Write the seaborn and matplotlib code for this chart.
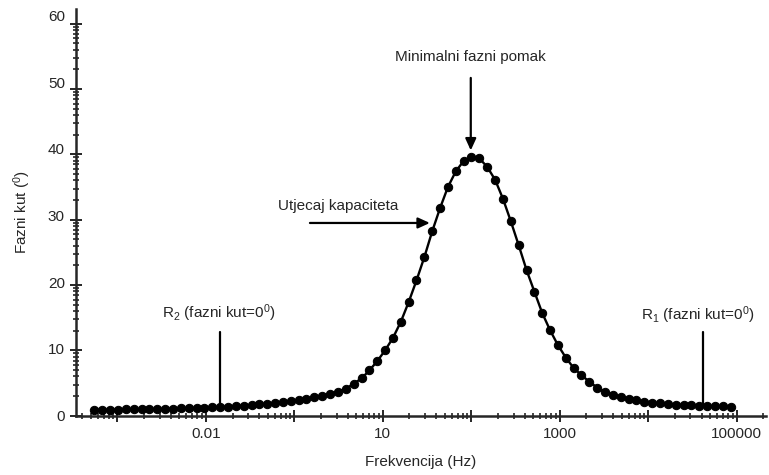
import numpy as np
import pandas as pd
import matplotlib
matplotlib.use('Agg')
import matplotlib.pyplot as plt
import matplotlib.ticker as mticker
from matplotlib.transforms import ScaledTranslation
import seaborn as sns

# frequency (Hz) and phase angle (deg)
freq = [0.0055, 0.00675, 0.00828, 0.01015, 0.01245, 0.01528, 0.01875, 0.0230, 0.0282, 0.0346,
        0.0425, 0.0521, 0.0640, 0.0784, 0.0962, 0.118, 0.145, 0.178, 0.218, 0.267,
        0.328, 0.403, 0.494, 0.606, 0.743, 0.912, 1.12, 1.37, 1.68, 2.07,
        2.54, 3.11, 3.82, 4.68, 5.74, 7.05, 8.65, 10.6, 13.0, 16.0,
        19.6, 24.0, 29.5, 36.1, 44.4, 54.4, 66.8, 82.0, 100.5, 123,
        151, 186, 228, 279, 343, 421, 516, 634, 776, 953,
        1170, 1435, 1760, 2160, 2650, 3250, 3990, 4900, 6000, 7360,
        9040, 11090, 13600, 16700, 20500, 25100, 30800, 37800, 46400, 56900,
        69800, 85700]
phase = [0.92, 0.93, 0.94, 0.95, 0.97, 0.98, 1.00, 1.02, 1.04, 1.07,
         1.10, 1.13, 1.16, 1.20, 1.24, 1.29, 1.35, 1.41, 1.47, 1.56,
         1.65, 1.75, 1.87, 1.99, 2.12, 2.26, 2.43, 2.61, 2.84, 3.08,
         3.37, 3.69, 4.13, 4.90, 5.71, 6.94, 8.36, 10.0, 11.9, 14.4,
         17.4, 20.7, 24.3, 28.2, 31.8, 35.0, 37.4, 39.0, 39.6, 39.4,
         38.1, 36.1, 33.2, 29.8, 26.1, 22.3, 19.0, 15.7, 13.1, 10.8,
         8.9, 7.3, 6.2, 5.2, 4.3, 3.67, 3.21, 2.86, 2.57, 2.35,
         2.16, 2.02, 1.90, 1.80, 1.70, 1.63, 1.57, 1.52, 1.48, 1.45,
         1.42, 1.40]

xtick_pos = [0.1, 10, 1000, 100000]
xtick_txt = ['0.01', '10', '1000', '100000']
ytick_pos = [0, 10, 20, 30, 40, 50, 60]

sns.set_style('ticks')
plt.rcParams['font.family'] = ['Liberation Sans', 'DejaVu Sans']
plt.rcParams['mathtext.fontset'] = 'custom'
plt.rcParams['mathtext.rm'] = 'Liberation Sans'
plt.rcParams['mathtext.it'] = 'Liberation Sans'

fig = plt.figure(figsize=(7.69, 4.75), dpi=100)
ax = fig.add_axes([0.0988, 0.1248, 0.897, 0.8556])

df = pd.DataFrame({'f': freq, 'phase': phase})
sns.lineplot(data=df, x='f', y='phase', ax=ax, color='black', linewidth=1.7,
             marker='o', markersize=6, markeredgecolor='black', sort=False)

ax.set_xscale('log')
ax.set_xlim(0.0034, 2.13e5)
ax.set_ylim(0, 62.2)

# every decade gets a major tick, only some of them carry a label
decades = [10.0 ** e for e in range(-2, 6)]
ax.xaxis.set_major_locator(mticker.FixedLocator(decades))
lab = dict(zip(xtick_pos, xtick_txt))
ax.xaxis.set_major_formatter(mticker.FixedFormatter([lab.get(d, '') for d in decades]))
ax.xaxis.set_minor_locator(mticker.LogLocator(base=10, subs=np.arange(2, 10), numticks=20))
ax.xaxis.set_minor_formatter(mticker.NullFormatter())

ax.set_yticks(ytick_pos)
ymin = [b + 10 * np.log10(k) for b in range(0, 60, 10) for k in range(2, 10)]
ax.yaxis.set_minor_locator(mticker.FixedLocator(ymin))

ax.tick_params(which='major', direction='inout', length=8, width=1.4, labelsize=11, pad=4)
ax.tick_params(which='minor', direction='inout', length=5, width=1.2)

for s in ['top', 'right']:
    ax.spines[s].set_visible(False)
for s in ['left', 'bottom']:
    ax.spines[s].set_linewidth(1.8)

for t, v in zip(ax.get_yticklabels(), ytick_pos):
    t.set_transform(t.get_transform() + ScaledTranslation(0, v * 0.14 / 100, fig.dpi_scale_trans))

ax.set_xlabel('Frekvencija (Hz)', fontsize=11)
ax.set_ylabel(r'Fazni kut ($^0$)', fontsize=11)
ax.xaxis.set_label_coords(0.5, -0.097)
ax.yaxis.set_label_coords(-0.062, 0.5)

arr = dict(arrowstyle='-|>,head_length=0.7,head_width=0.32', color='black', lw=1.6,
           shrinkA=0, shrinkB=0)
ax.annotate('', xy=(98.6, 40.6), xytext=(98.6, 51.7), arrowprops=arr)
ax.text(98.6, 54.9, 'Minimalni fazni pomak', ha='center', va='center', fontsize=11)
ax.annotate('', xy=(34, 29.5), xytext=(1.5, 29.5), arrowprops=arr)
ax.text(3.1, 32.1, 'Utjecaj kapaciteta', ha='center', va='center', fontsize=11)

ax.plot([0.144, 0.144], [1.6, 12.8], color='black', lw=1.6)
ax.text(0.14, 15.7, r'R$_2$ (fazni kut=0$^0$)', ha='center', va='center', fontsize=11)
ax.plot([41300, 41300], [1.6, 12.8], color='black', lw=1.6)
ax.text(36000, 15.4, r'R$_1$ (fazni kut=0$^0$)', ha='center', va='center', fontsize=11)

fig.savefig('out.png', dpi=100)
